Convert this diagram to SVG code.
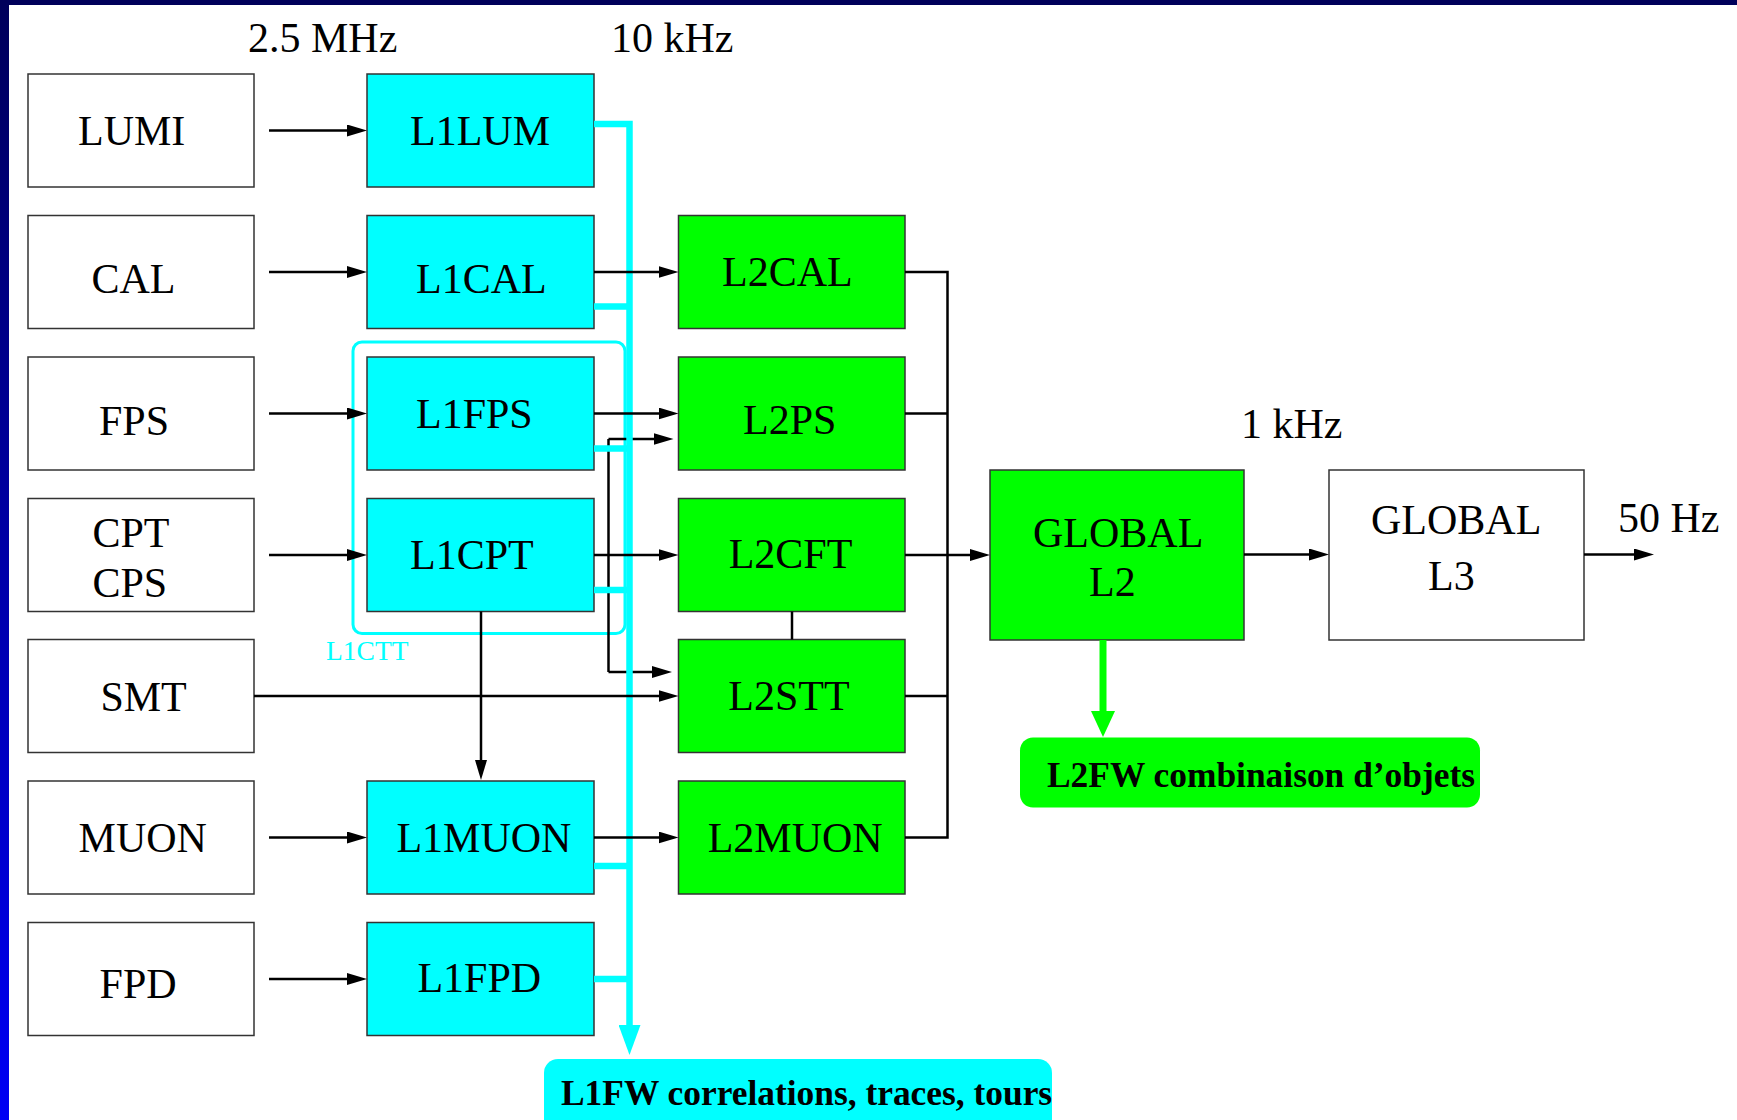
<svg xmlns="http://www.w3.org/2000/svg" width="1737" height="1120" viewBox="0 0 1737 1120">
<defs>
<linearGradient id="sideGrad" x1="0" y1="0" x2="0" y2="1">
<stop offset="0" stop-color="#00005a"/>
<stop offset="1" stop-color="#0000f5"/>
</linearGradient>
<marker id="ah" viewBox="0 0 20 12" refX="8" refY="6" markerWidth="20" markerHeight="12" markerUnits="userSpaceOnUse" orient="auto">
<path d="M0,0 L20,6 L0,12 z" fill="#000"/>
</marker>
<marker id="ahCyan" viewBox="0 0 30 22" refX="10" refY="11" markerWidth="30" markerHeight="22" markerUnits="userSpaceOnUse" orient="auto">
<path d="M0,0 L30,11 L0,22 z" fill="#00ffff"/>
</marker>
<marker id="ahGreen" viewBox="0 0 26 24" refX="8" refY="12" markerWidth="26" markerHeight="24" markerUnits="userSpaceOnUse" orient="auto">
<path d="M0,0 L26,12 L0,24 z" fill="#00ff00"/>
</marker>
</defs>
<style>
.box{fill:#fff;stroke:#333;stroke-width:1.5}
.l1{fill:#00ffff;stroke:#333;stroke-width:1.5}
.l2{fill:#00ff00;stroke:#333;stroke-width:1.5}
.t{font-family:"Liberation Serif","Times New Roman",serif;font-size:42px;fill:#000}
.tb{font-family:"Liberation Serif","Times New Roman",serif;font-size:35.4px;font-weight:bold;fill:#000}
.ctt{font-family:"Liberation Serif","Times New Roman",serif;font-size:27.5px;fill:#00ffff}
.blk{fill:none;stroke:#000;stroke-width:2.5}
.arr{fill:none;stroke:#000;stroke-width:2.5;marker-end:url(#ah)}
.cy{fill:none;stroke:#00ffff;stroke-width:6.5}
</style>
<rect x="0" y="0" width="1737" height="1120" fill="#fff"/>
<rect x="0" y="0" width="1737" height="5" fill="#00005a"/>
<rect x="0" y="0" width="9" height="1120" fill="url(#sideGrad)"/>

<text class="t" x="248" y="52">2.5 MHz</text>
<text class="t" x="611" y="52">10 kHz</text>
<text class="t" x="1241" y="438">1 kHz</text>
<text class="t" x="1618" y="532">50 Hz</text>

<g id="L1CTT">
<rect x="353" y="342" width="272" height="291.5" rx="9" fill="none" stroke="#00ffff" stroke-width="3"/>
<text class="ctt" x="326" y="660">L1CTT</text>
</g>

<g id="LUMI"><rect class="box" x="28" y="74" width="226" height="113"/><text class="t" x="78" y="145">LUMI</text></g>
<g id="CAL"><rect class="box" x="28" y="215.5" width="226" height="113"/><text class="t" x="91.5" y="293">CAL</text></g>
<g id="FPS"><rect class="box" x="28" y="357" width="226" height="113"/><text class="t" x="99" y="435">FPS</text></g>
<g id="CPTCPS"><rect class="box" x="28" y="498.5" width="226" height="113"/><text class="t" x="92.4" y="547">CPT</text><text class="t" x="92.4" y="596.5">CPS</text></g>
<g id="SMT"><rect class="box" x="28" y="639.5" width="226" height="113"/><text class="t" x="100.4" y="710.5">SMT</text></g>
<g id="MUON"><rect class="box" x="28" y="781" width="226" height="113"/><text class="t" x="78.6" y="851.5">MUON</text></g>
<g id="FPD"><rect class="box" x="28" y="922.5" width="226" height="113"/><text class="t" x="99.6" y="998">FPD</text></g>

<g id="L1LUM"><rect class="l1" x="367" y="74" width="227" height="113"/><text class="t" x="410" y="145">L1LUM</text></g>
<g id="L1CAL"><rect class="l1" x="367" y="215.5" width="227" height="113"/><text class="t" x="416" y="293">L1CAL</text></g>
<g id="L1FPS"><rect class="l1" x="367" y="357" width="227" height="113"/><text class="t" x="416" y="428">L1FPS</text></g>
<g id="L1CPT"><rect class="l1" x="367" y="498.5" width="227" height="113"/><text class="t" x="410" y="569">L1CPT</text></g>
<g id="L1MUON"><rect class="l1" x="367" y="781" width="227" height="113"/><text class="t" x="396.4" y="851.5">L1MUON</text></g>
<g id="L1FPD"><rect class="l1" x="367" y="922.5" width="227" height="113"/><text class="t" x="417.4" y="991.5">L1FPD</text></g>

<g id="L2CAL"><rect class="l2" x="678.5" y="215.5" width="226.5" height="113"/><text class="t" x="722" y="286">L2CAL</text></g>
<g id="L2PS"><rect class="l2" x="678.5" y="357" width="226.5" height="113"/><text class="t" x="743" y="434">L2PS</text></g>
<g id="L2CFT"><rect class="l2" x="678.5" y="498.5" width="226.5" height="113"/><text class="t" x="728.7" y="568">L2CFT</text></g>
<g id="L2STT"><rect class="l2" x="678.5" y="639.5" width="226.5" height="113"/><text class="t" x="728.3" y="710">L2STT</text></g>
<g id="L2MUON"><rect class="l2" x="678.5" y="781" width="226.5" height="113"/><text class="t" x="707.7" y="851.5">L2MUON</text></g>

<g id="GLOBALL2"><rect class="l2" x="990" y="470" width="254" height="170"/><text class="t" x="1033" y="546.5">GLOBAL</text><text class="t" x="1089" y="596">L2</text></g>
<g id="GLOBALL3"><rect class="box" x="1329" y="470" width="255" height="170"/><text class="t" x="1371" y="534">GLOBAL</text><text class="t" x="1428" y="590">L3</text></g>

<g id="L2FW"><rect x="1020" y="737.5" width="460" height="70" rx="13" fill="#00ff00"/><text class="tb" x="1047" y="786.5">L2FW combinaison d’objets</text></g>
<g id="L1FW"><rect x="544" y="1059" width="508" height="80" rx="14" fill="#00ffff"/><text class="tb" x="561" y="1105">L1FW correlations, traces, tours</text></g>

<g id="connectors">
<path class="blk" d="M608.5,439 V672"/>
<path class="arr" d="M608.5,439 H661.5"/>
<path class="arr" d="M608.5,672 H660"/>
<path class="cy" d="M594,124 H629.5 V1035" marker-end="url(#ahCyan)"/>
<path class="cy" d="M594,306.5 H629.5"/>
<path class="cy" d="M594,448.5 H629.5"/>
<path class="cy" d="M594,590 H629.5"/>
<path class="cy" d="M594,866 H629.5"/>
<path class="cy" d="M594,979 H629.5"/>
<path class="arr" d="M269,130.5 H355"/>
<path class="arr" d="M269,272 H355"/>
<path class="arr" d="M269,413.5 H355"/>
<path class="arr" d="M269,555 H355"/>
<path class="arr" d="M269,837.5 H355"/>
<path class="arr" d="M269,979 H355"/>
<path class="arr" d="M254,696 H666.5"/>
<path class="arr" d="M594,272 H666.5"/>
<path class="arr" d="M594,413.5 H666.5"/>
<path class="arr" d="M594,555 H666.5"/>
<path class="arr" d="M594,837.5 H666.5"/>
<path class="arr" d="M481,611.5 V768"/>
<path class="blk" d="M792,611.5 V639.5"/>
<path class="blk" d="M905,272 H947.5 V837.5 H905"/>
<path class="blk" d="M905,413.5 H947.5"/>
<path class="blk" d="M905,696 H947.5"/>
<path class="arr" d="M905,555 H978"/>
<path class="arr" d="M1244,554.5 H1317"/>
<path class="arr" d="M1584,554.5 H1642"/>
<path d="M1103,640 V719" fill="none" stroke="#00ff00" stroke-width="7" marker-end="url(#ahGreen)"/>
</g>
</svg>
